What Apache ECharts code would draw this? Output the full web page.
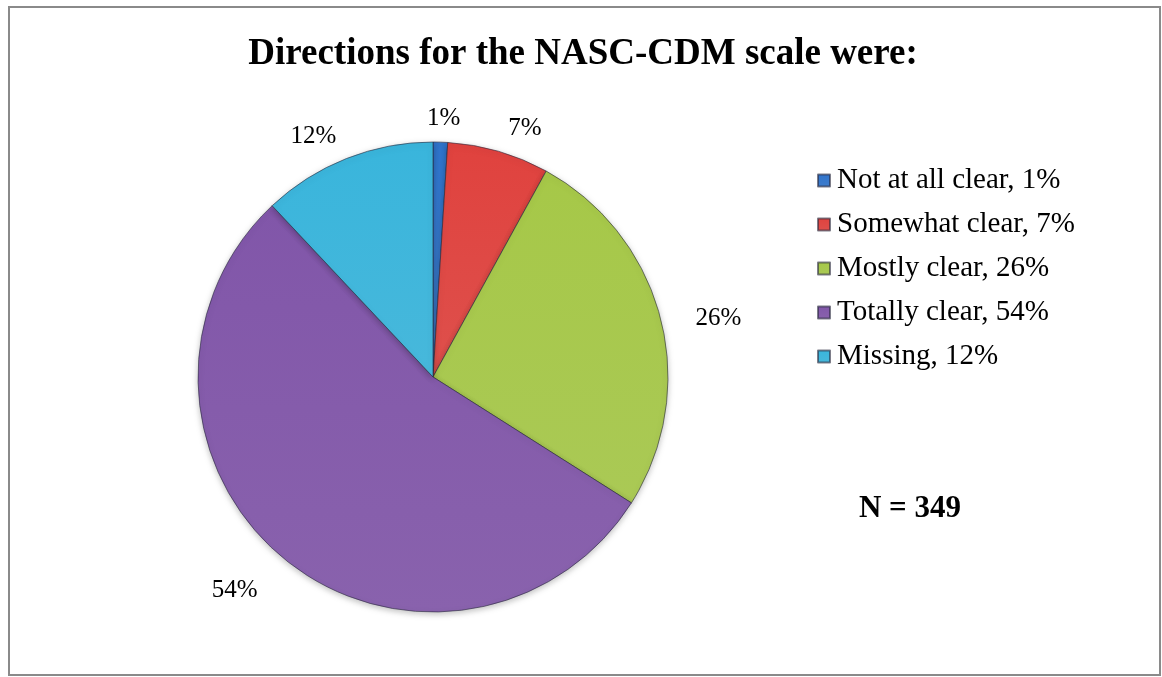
<!DOCTYPE html>
<html>
<head>
<meta charset="utf-8">
<script src="https://cdn.jsdelivr.net/npm/echarts@6/dist/echarts.min.js"></script>
<style>
html,body{margin:0;padding:0;background:#fff;}
#chart{width:1162px;height:677px;}
</style>
</head>
<body>
<div id="chart"></div>
<script>
const categories = ['Not at all clear', 'Somewhat clear', 'Mostly clear', 'Totally clear', 'Missing'];
const percents = [1, 7, 26, 54, 12];
const sliceColors = ['#2f72c8', '#dc413d', '#a3c547', '#7f55a6', '#38b2d8'];
const titleText = 'Directions for the NASC-CDM scale were:';
const noteText = 'N = 349';

const chart = echarts.init(document.getElementById('chart'));
const serif = '"Liberation Serif", "Times New Roman", serif';

const data = categories.map((c, i) => ({
  name: c + ', ' + percents[i] + '%',
  value: percents[i],
  itemStyle: {
    color: new echarts.graphic.LinearGradient(0, 0, 0, 1, [
      {offset: 0, color: echarts.color.lift(sliceColors[i], -0.02)},
      {offset: 1, color: echarts.color.lift(sliceColors[i], 0.08)}
    ])
  }
}));

chart.setOption({
  animation: false,
  title: {
    text: titleText,
    left: 578,
    top: 31,
    textAlign: 'center',
    textStyle: {fontFamily: serif, fontWeight: 'bold', fontSize: 37, color: '#000'}
  },
  legend: {
    orient: 'vertical',
    left: 812,
    top: 161,
    itemWidth: 12,
    itemHeight: 12,
    itemGap: 15,
    icon: 'rect',
    textStyle: {fontFamily: serif, fontSize: 29, lineHeight: 29, color: '#000', padding: [0, 0, 0, 2]},
    data: data.map(d => d.name)
  },
  graphic: [
    {type: 'rect', shape: {x: 9, y: 7, width: 1151, height: 668}, style: {fill: 'none', stroke: '#8a8a8a', lineWidth: 2}, z: 100},
    {type: 'text', x: 910, y: 509, style: {text: noteText, font: 'bold 31px ' + serif, fill: '#000', align: 'center', verticalAlign: 'middle'}}
  ],
  series: [{
    type: 'pie',
    center: [433, 377],
    radius: 235,
    startAngle: 90,
    clockwise: true,
    avoidLabelOverlap: false,
    data: data,
    itemStyle: {borderColor: 'rgba(40,40,60,0.6)', borderWidth: 1, shadowBlur: 6, shadowColor: 'rgba(0,0,0,0.25)', shadowOffsetY: 2},
    label: {
      show: true,
      position: 'outside',
      formatter: p => p.value + '%',
      fontFamily: serif,
      fontSize: 25,
      color: '#000'
    },
    labelLine: {show: true, length: 10, length2: 0, lineStyle: {opacity: 0, width: 0}},
    labelLayout: function (params) {
      const pts = params.labelLinePoints;
      if (!pts || pts.length < 2) return {};
      const dx = pts[1][0] - pts[0][0];
      const dy = pts[1][1] - pts[0][1];
      const len = Math.sqrt(dx * dx + dy * dy) || 1;
      const ux = dx / len, uy = dy / len;
      return {
        x: pts[0][0] + ux * 58 + ux * (1 - Math.abs(ux)) * 50,
        y: pts[0][1] + uy * 32 + 8,
        align: 'center',
        verticalAlign: 'middle'
      };
    },
    emphasis: {disabled: true}
  }]
});
</script>
</body>
</html>
